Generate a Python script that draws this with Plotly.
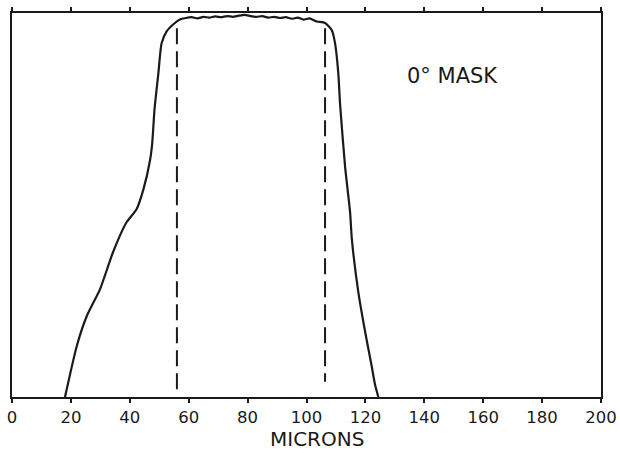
import plotly.graph_objects as go

# Profile curve (microns vs. relative intensity)
microns = [18.0, 22.0, 25.4, 29.9, 34.3, 38.9, 42.3, 44.6, 46.9, 47.6, 48.4, 49.7, 50.8,
           52.5, 54.7, 57.0, 59, 61, 63, 65, 67, 69, 71, 73, 75, 77, 79, 81, 83, 85, 87,
           89, 91, 93, 95, 97, 99, 101, 103.5, 106.3, 108.6, 109.7, 110.8, 111.4, 113.1,
           114.8, 115.4, 117.6, 119.9, 122.1, 123.3, 124.4]
intensity = [0.0, 0.133, 0.211, 0.281, 0.377, 0.455, 0.489, 0.540, 0.618, 0.660, 0.750,
             0.843, 0.921, 0.952, 0.970, 0.983, 0.987, 0.989, 0.986, 0.990, 0.988, 0.991,
             0.989, 0.992, 0.990, 0.993, 0.995, 0.992, 0.990, 0.992, 0.988, 0.990, 0.987,
             0.989, 0.985, 0.988, 0.983, 0.986, 0.978, 0.974, 0.955, 0.921, 0.843, 0.763,
             0.600, 0.481, 0.411, 0.273, 0.170, 0.082, 0.031, 0.0]

# Dashed markers
dash_left_x = [56.0, 56.0]
dash_left_y = [0.96, 0.01]
dash_right_x = [106.3, 106.3]
dash_right_y = [0.96, 0.04]

tick_vals = [0, 20, 40, 60, 80, 100, 120, 140, 160, 180, 200]
tick_text = ["0", "20", "40", "60", "80", "100", "120", "140", "160", "180", "200"]

FONT = "DejaVu Sans, Verdana, sans-serif"
INK = "#1a1a1a"

fig = go.Figure()
fig.add_trace(go.Scatter(x=microns, y=intensity, mode="lines",
                         line=dict(color=INK, width=2.2, shape="spline", smoothing=0.6),
                         hoverinfo="skip", showlegend=False))
fig.add_trace(go.Scatter(x=dash_left_x, y=dash_left_y, mode="lines",
                         line=dict(color=INK, width=2, dash="16px,7px"),
                         hoverinfo="skip", showlegend=False))
fig.add_trace(go.Scatter(x=dash_right_x, y=dash_right_y, mode="lines",
                         line=dict(color=INK, width=2, dash="16px,7px"),
                         hoverinfo="skip", showlegend=False))

fig.add_annotation(x=149.5, y=0.835, xref="x", yref="y", text="0° MASK", showarrow=False,
                   font=dict(family=FONT, size=21, color=INK))
# axis title
fig.add_annotation(x=103.5, y=-0.1095, xref="x", yref="paper", text="MICRONS",
                   showarrow=False, yanchor="middle", borderpad=0,
                   font=dict(family=FONT, size=20, color=INK))

fig.update_layout(
    width=620, height=453,
    margin=dict(l=12, r=19, t=13, b=56),
    paper_bgcolor="white", plot_bgcolor="white",
    xaxis=dict(range=[0, 200], tickvals=tick_vals, ticktext=tick_text,
               ticks="outside", ticklen=4, tickwidth=1.5, tickcolor=INK,
               ticklabelstandoff=0, automargin=False,
               showline=True, linecolor=INK, linewidth=2, mirror="ticks",
               showgrid=False, zeroline=False,
               tickfont=dict(family=FONT, size=16.5, color=INK)),
    yaxis=dict(range=[0, 1.0], showticklabels=False, ticks="", automargin=False,
               showline=True, linecolor=INK, linewidth=2, mirror=True,
               showgrid=False, zeroline=False),
)

fig.write_html("out.html")
